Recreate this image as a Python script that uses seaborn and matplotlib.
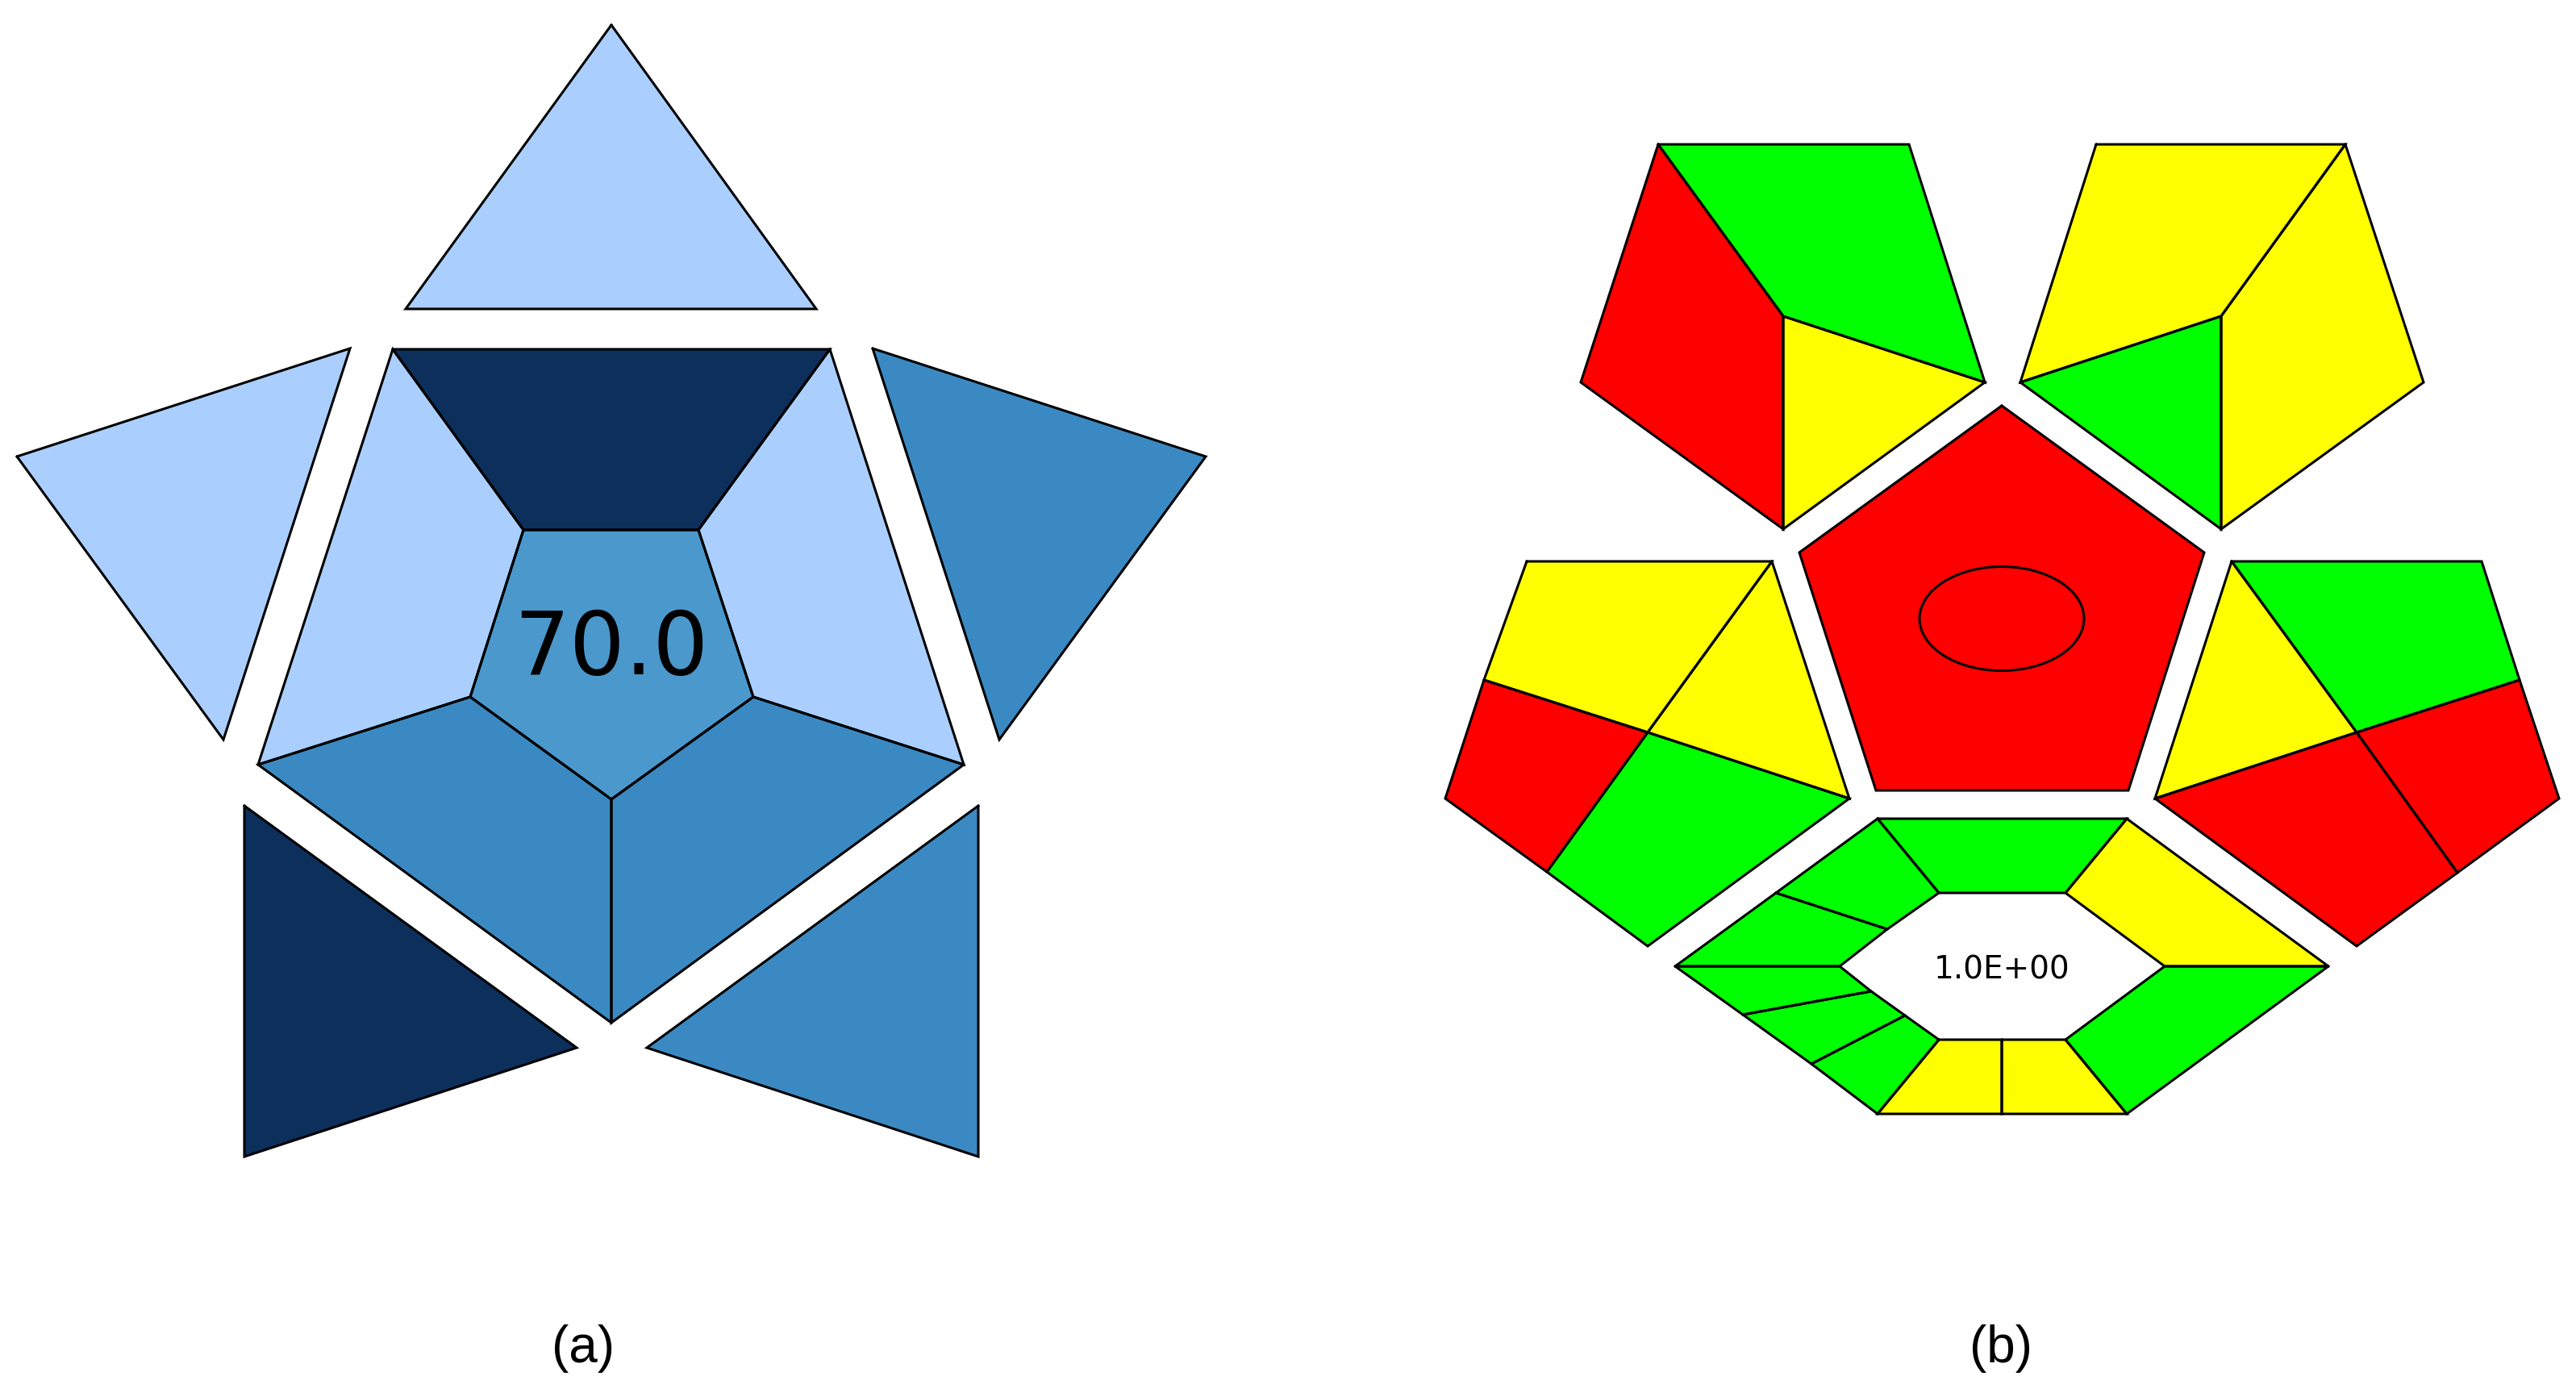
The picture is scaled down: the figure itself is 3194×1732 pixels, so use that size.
import pandas as pd
import seaborn as sns
import matplotlib.pyplot as plt
from matplotlib.patches import Ellipse

# panel (a): pentagon tile, flaps around it
a_flaps = [
    [(758, 31), (503, 383), (1012, 383)],
    [(21, 566), (434, 432), (277, 917)],
    [(1082, 432), (1495, 566), (1239, 917)],
    [(303, 999), (715, 1299), (303, 1434)],
    [(1213, 999), (1213, 1434), (802, 1299)],
]
a_flap_colors = ["light", "light", "mid", "dark", "mid"]

a_tile = [
    [(487, 433), (1029, 433), (866, 657), (649, 657)],
    [(1029, 433), (1195, 948), (934, 864), (866, 657)],
    [(1195, 948), (758, 1268), (758, 991), (934, 864)],
    [(758, 1268), (320, 948), (583, 864), (758, 991)],
    [(320, 948), (487, 433), (649, 657), (583, 864)],
    [(649, 657), (866, 657), (934, 864), (758, 991), (583, 864)],
]
a_tile_colors = ["dark", "light", "mid", "mid", "light", "center"]

# panel (b): pentagons with their segments
b_top_left = [
    [(2056, 179), (2211, 392), (2211, 656), (1960, 474)],
    [(2056, 179), (2367, 179), (2461, 474), (2211, 392)],
    [(2211, 392), (2461, 474), (2211, 656)],
]
b_top_left_colors = ["red", "green", "yellow"]

b_top_right = [
    [(2599, 179), (2908, 179), (2754, 392), (2505, 474)],
    [(2908, 179), (3005, 474), (2754, 656), (2754, 392)],
    [(2505, 474), (2754, 392), (2754, 656)],
]
b_top_right_colors = ["yellow", "yellow", "green"]

b_left = [
    [(1893, 696), (2197, 696), (2043, 908), (1840, 843)],
    [(2197, 696), (2293, 990), (2043, 908)],
    [(2043, 908), (2293, 990), (2043, 1173), (1918, 1081)],
    [(1840, 843), (2043, 908), (1918, 1081), (1792, 990)],
]
b_left_colors = ["yellow", "yellow", "green", "red"]

b_right = [
    [(2767, 696), (3077, 696), (3124, 843), (2922, 908)],
    [(2767, 696), (2922, 908), (2672, 990)],
    [(2672, 990), (2922, 908), (3047, 1082), (2922, 1173)],
    [(2922, 908), (3124, 843), (3173, 990), (3047, 1082)],
]
b_right_colors = ["green", "yellow", "red", "red"]

b_center = [[(2482, 503), (2733, 685), (2639, 980), (2326, 980), (2231, 685)]]
b_center_colors = ["red"]

b_hexagon = [
    [(2328, 1015), (2637, 1015), (2561, 1107), (2404, 1107)],
    [(2637, 1015), (2887, 1198), (2684, 1198), (2561, 1107)],
    [(2887, 1198), (2637, 1381), (2561, 1289), (2684, 1198)],
    [(2482, 1289), (2561, 1289), (2637, 1381), (2482, 1381)],
    [(2404, 1289), (2482, 1289), (2482, 1381), (2328, 1381)],
    [(2246, 1319), (2362, 1259), (2404, 1289), (2328, 1381)],
    [(2161, 1258), (2320, 1229), (2362, 1259), (2246, 1319)],
    [(2077, 1198), (2281, 1198), (2320, 1229), (2161, 1258)],
    [(2202, 1107), (2340, 1152), (2281, 1198), (2077, 1198)],
    [(2328, 1015), (2404, 1107), (2340, 1152), (2202, 1107)],
]
b_hexagon_colors = ["green", "yellow", "green", "yellow", "yellow",
                    "green", "green", "green", "green", "green"]

colors = {
    "light": "#aacfff",
    "mid": "#3b89c2",
    "center": "#4b98cc",
    "dark": "#0d2f5c",
    "red": "#ff0000",
    "green": "#00ff00",
    "yellow": "#ffff00",
}

polys = (a_flaps + a_tile + b_top_left + b_top_right + b_left + b_right
         + b_center + b_hexagon)
poly_colors = (a_flap_colors + a_tile_colors + b_top_left_colors
               + b_top_right_colors + b_left_colors + b_right_colors
               + b_center_colors + b_hexagon_colors)

# long table for the outlines, each ring closed on its first vertex
rows = []
for i, poly in enumerate(polys):
    for x, y in poly + poly[:1]:
        rows.append({"poly": i, "x": x, "y": y})
outlines = pd.DataFrame(rows)

sns.set_theme(style="white")

fig = plt.figure(figsize=(31.94, 17.32), dpi=100)
ax = fig.add_axes([0, 0, 1, 1])

for poly, name in zip(polys, poly_colors):
    xs, ys = zip(*poly)
    ax.fill(xs, ys, color=colors[name], linewidth=0, zorder=1)

sns.lineplot(data=outlines, x="x", y="y", units="poly", estimator=None,
             sort=False, color="black", linewidth=2.2, legend=False,
             solid_joinstyle="miter", zorder=2, ax=ax)

ax.add_patch(Ellipse((2482, 767), 204, 129, facecolor="none",
                     edgecolor="black", linewidth=2.2, zorder=3))

ax.text(758, 806, "70.0", fontsize=78, family="DejaVu Sans", ha="center",
        va="center", color="black", zorder=4)
ax.text(2482, 1202, "1.0E+00", fontsize=28, family="DejaVu Sans", ha="center",
        va="center", color="black", zorder=4)
ax.text(723, 1672, "(a)", fontsize=46, family="Liberation Sans", ha="center",
        va="center", color="black")
ax.text(2481, 1672, "(b)", fontsize=46, family="Liberation Sans", ha="center",
        va="center", color="black")

ax.set_xlim(0, 3194)
ax.set_ylim(1732, 0)
ax.axis("off")

fig.savefig("out.png", dpi=100, facecolor="white")
